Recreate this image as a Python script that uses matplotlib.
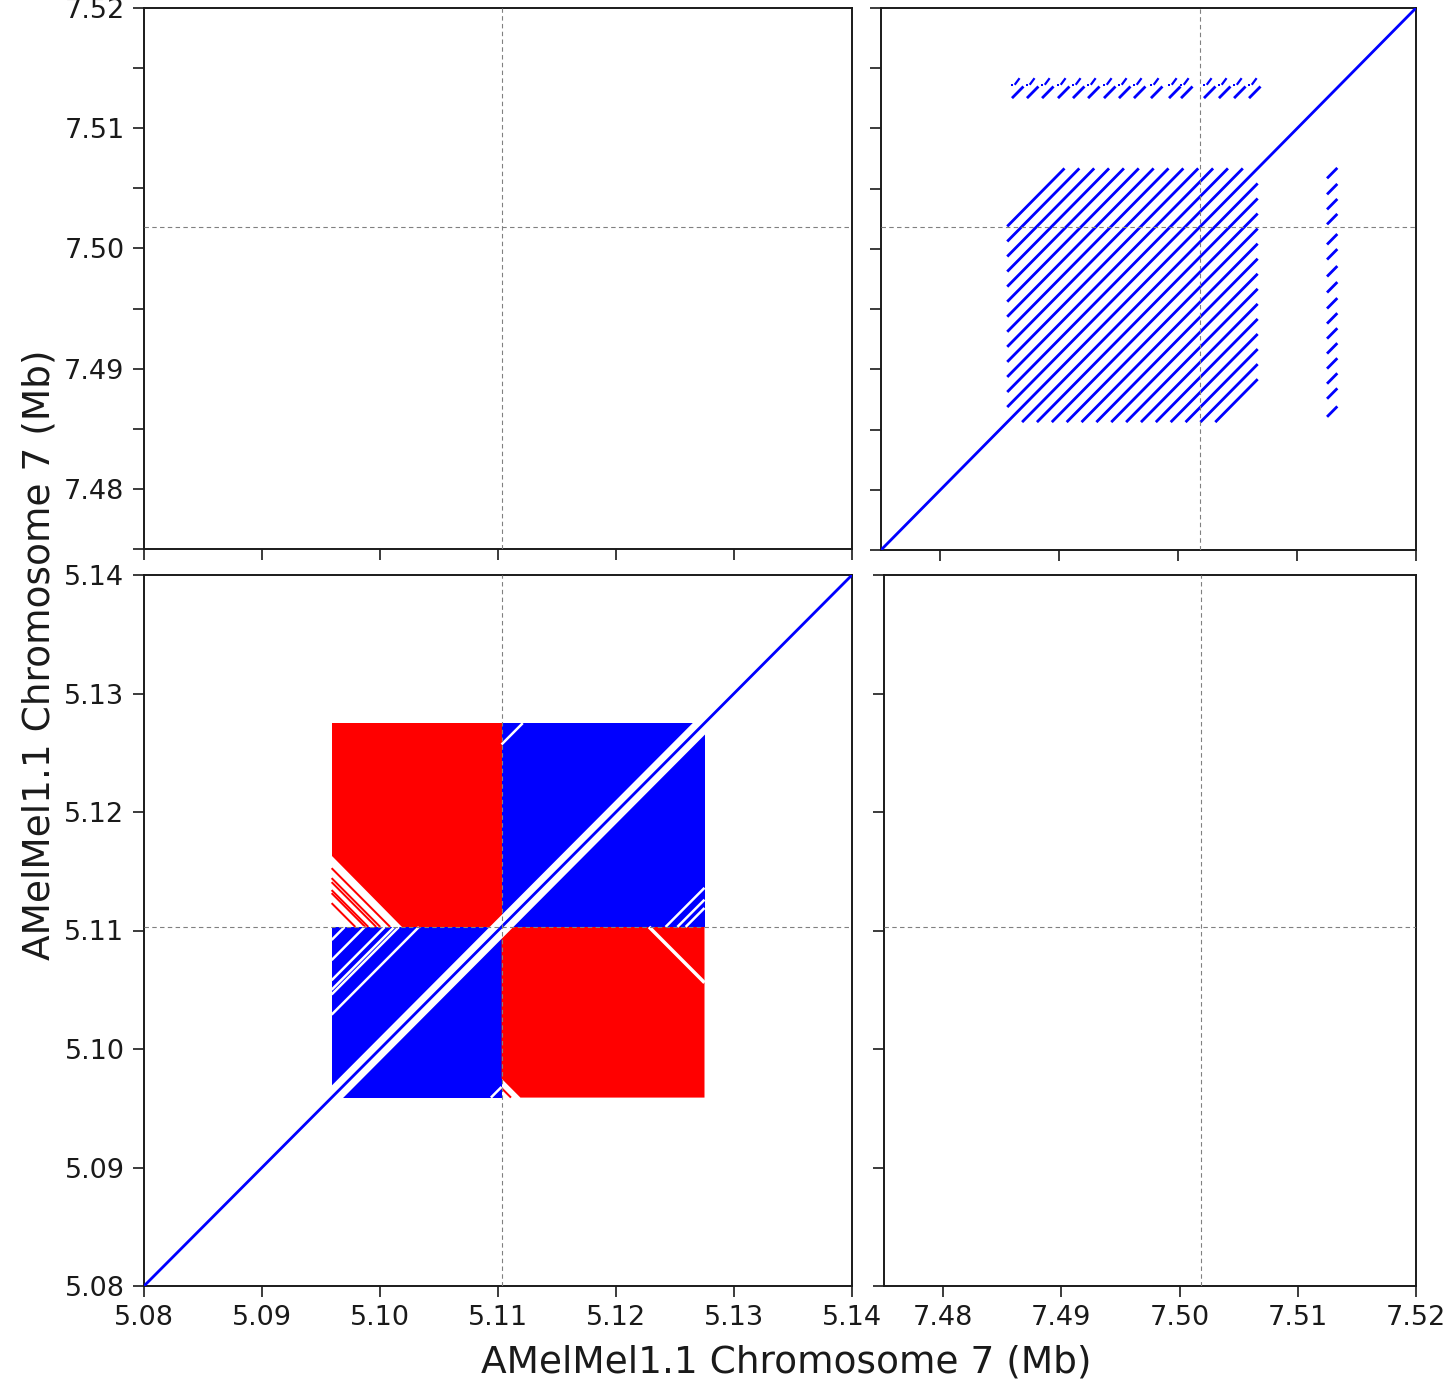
import matplotlib
matplotlib.use("Agg")
import matplotlib.pyplot as plt
from matplotlib.ticker import MultipleLocator, FormatStrFormatter

# --- data (Mb) ---
# region 1: chr7 5.08-5.14, region 2: chr7 7.475-7.52
lim1 = (5.08, 5.14)
lim2 = (7.475, 7.52)
bp1 = 5.1103          # dashed marker, region 1
bp2 = 7.5018          # dashed marker, region 2

# region 1 self-plot: tandem/inverted array block
blk1 = (5.0959, 5.1275)
band_halfwidth_px = 12          # white gap around main diagonal inside the block
# white forward gaps (offset y-x), per quadrant
gaps_ll = [0.0133, 0.0116, 0.0099, 0.0091, 0.0087, 0.0070, -0.0135]
gaps_ur = [0.0154, -0.0139, -0.0149, -0.0156]
# inverted (x+y) edges and stripes
ul_cut = 10.2122
ul_stripes = [10.21116, 10.21032, 10.20998, 10.20931, 10.20905, 10.20821]
lr_gap = 10.2331
lr_cut = 10.2078
lr_stripes = [10.2070]

# region 2 self-plot: tandem array
blk2 = (7.4857, 7.5066)
diag_offsets = [0.01625, 0.015, 0.01375, 0.0125, 0.01125, 0.01, 0.00875, 0.0075,
                0.00625, 0.005, 0.00375, 0.0025, 0.00125,
                -0.00125, -0.0025, -0.00375, -0.005, -0.00625, -0.0075, -0.00875,
                -0.01, -0.01125, -0.0125, -0.01375, -0.015, -0.01625, -0.0175]
# copies of the unit at ~7.513 (top band x positions, right band y positions)
top_band_x = [7.48610, 7.48736, 7.48863, 7.48997, 7.49123, 7.49250, 7.49384, 7.49510,
              7.49636, 7.49779, 7.49931, 7.50032, 7.50225, 7.50351, 7.50478, 7.50604]
top_band_y = (7.5126, 7.5134)
top_dots_y = (7.5137, 7.5141)
right_band_y = [7.50594, 7.50461, 7.50336, 7.50212, 7.50045, 7.49920, 7.49779, 7.49646,
                7.49513, 7.49388, 7.49263, 7.49139, 7.49014, 7.48889, 7.48764, 7.48614]
right_band_x = (7.5126, 7.5133)

BLUE = "#0000ff"
RED = "#ff0000"

plt.rcParams['font.family'] = ['DejaVu Sans']
W, H = 1446, 1384
fig = plt.figure(figsize=(W / 100, H / 100), dpi=100)

def box(x0, y0, x1, y1):
    return [x0 / W, 1 - y1 / H, (x1 - x0) / W, (y1 - y0) / H]

ax_tl = fig.add_axes(box(144, 8, 852, 549))
ax_tr = fig.add_axes(box(881, 8, 1416, 550))
ax_bl = fig.add_axes(box(144, 575, 852, 1286))
ax_br = fig.add_axes(box(884, 575, 1416, 1286))

def clip_fwd(d, xr, yr):
    x0 = max(xr[0], yr[0] - d)
    x1 = min(xr[1], yr[1] - d)
    return [x0, x1], [x0 + d, x1 + d]

def clip_rev(s, xr, yr):
    x0 = max(xr[0], s - yr[1])
    x1 = min(xr[1], s - yr[0])
    return [x0, x1], [s - x0, s - x1]

lw_px = 0.72  # points per pixel at dpi 100
line_lw = 2.8 * lw_px

# ---- bottom-left: region 1 vs region 1 ----
ax = ax_bl
lo, hi = blk1
ax.fill([bp1, bp1, hi, hi], [bp1, hi, hi, bp1], color=BLUE, lw=0, zorder=2)
ax.fill([lo, lo, bp1, bp1], [lo, bp1, bp1, lo], color=BLUE, lw=0, zorder=2)
ax.fill([lo, lo, bp1, bp1, ul_cut - bp1], [ul_cut - lo, hi, hi, bp1, bp1],
        color=RED, lw=0, zorder=2)
ax.fill([bp1, lr_cut - lo, hi, hi, bp1], [lr_cut - bp1, lo, lo, bp1, bp1],
        color=RED, lw=0, zorder=2)
for s in ul_stripes:
    xs, ys = clip_rev(s, (lo, bp1), (bp1, hi))
    ax.plot(xs, ys, color=RED, lw=2 * lw_px, zorder=2.5, solid_capstyle='butt')
for s in lr_stripes:
    xs, ys = clip_rev(s, (bp1, hi), (lo, bp1))
    ax.plot(xs, ys, color=RED, lw=2 * lw_px, zorder=2.5, solid_capstyle='butt')
xs, ys = clip_rev(lr_gap, (bp1, hi), (lo, bp1))
ax.plot(xs, ys, color="white", lw=3.5 * lw_px, zorder=3, solid_capstyle='butt')
for d in gaps_ll:
    xs, ys = clip_fwd(d, (lo, bp1), (lo, bp1))
    ax.plot(xs, ys, color="white", lw=2.5 * lw_px, zorder=3, solid_capstyle='butt')
for d in gaps_ur:
    xs, ys = clip_fwd(d, (bp1, hi), (bp1, hi))
    ax.plot(xs, ys, color="white", lw=2.5 * lw_px, zorder=3, solid_capstyle='butt')
ax.plot([lo, hi], [lo, hi], color="white", lw=2 * band_halfwidth_px * 0.7 * lw_px,
        zorder=3, solid_capstyle='butt')
ax.plot(lim1, lim1, color=BLUE, lw=line_lw, zorder=4)

# ---- top-right: region 2 vs region 2 ----
ax = ax_tr
lo, hi = blk2
for d in diag_offsets:
    xs, ys = clip_fwd(d, (lo, hi), (lo, hi))
    ax.plot(xs, ys, color=BLUE, lw=line_lw, zorder=3)
ax.plot(lim2, lim2, color=BLUE, lw=line_lw, zorder=4)
for x in top_band_x:
    ax.plot([x, x + 0.0008], list(top_band_y), color=BLUE, lw=line_lw, zorder=3)
    ax.plot([x + 0.0002, x + 0.0005], list(top_dots_y), color=BLUE, lw=2.2 * lw_px, zorder=3)
    ax.plot([x - 0.0001], [top_dots_y[0] - 0.0001], 's', color=BLUE, ms=1.8, mew=0, zorder=3)
for y in right_band_y:
    ax.plot(list(right_band_x), [y, y + 0.0007], color=BLUE, lw=line_lw, zorder=3)

# ---- axes setup ----
dash = dict(color="gray", lw=0.8, ls=(0, (4, 3)), zorder=5)
setups = [
    (ax_tl, lim1, lim2, bp1, bp2),
    (ax_tr, lim2, lim2, bp2, bp2),
    (ax_bl, lim1, lim1, bp1, bp1),
    (ax_br, lim2, lim1, bp2, bp1),
]
for ax, xl, yl, vx, hy in setups:
    ax.set_xlim(xl)
    ax.set_ylim(yl)
    ax.axvline(vx, **dash)
    ax.axhline(hy, **dash)
    ax.xaxis.set_major_locator(MultipleLocator(0.01))
    ax.yaxis.set_major_locator(MultipleLocator(0.01))
    ax.xaxis.set_major_formatter(FormatStrFormatter('%.2f'))
    ax.yaxis.set_major_formatter(FormatStrFormatter('%.2f'))
    ax.tick_params(which='both', length=8, width=1.2, labelsize=19.5, pad=6,
                   color='#1a1a1a', labelcolor='#1a1a1a')
    for sp in ax.spines.values():
        sp.set_linewidth(1.4)
        sp.set_color('#1a1a1a')

for ax in (ax_tl, ax_tr):
    ax.yaxis.set_minor_locator(MultipleLocator(0.005))
    ax.tick_params(labelbottom=False)
for ax in (ax_tr, ax_br):
    ax.tick_params(labelleft=False)

fig.text(786 / W, 1 - 1362 / H, "AMelMel1.1 Chromosome 7 (Mb)", fontsize=27,
         ha='center', va='center', color='#1a1a1a')
fig.text(40 / W, 1 - 655 / H, "AMelMel1.1 Chromosome 7 (Mb)", fontsize=27,
         ha='center', va='center', rotation=90, color='#1a1a1a')

fig.savefig("out.png", dpi=100)
